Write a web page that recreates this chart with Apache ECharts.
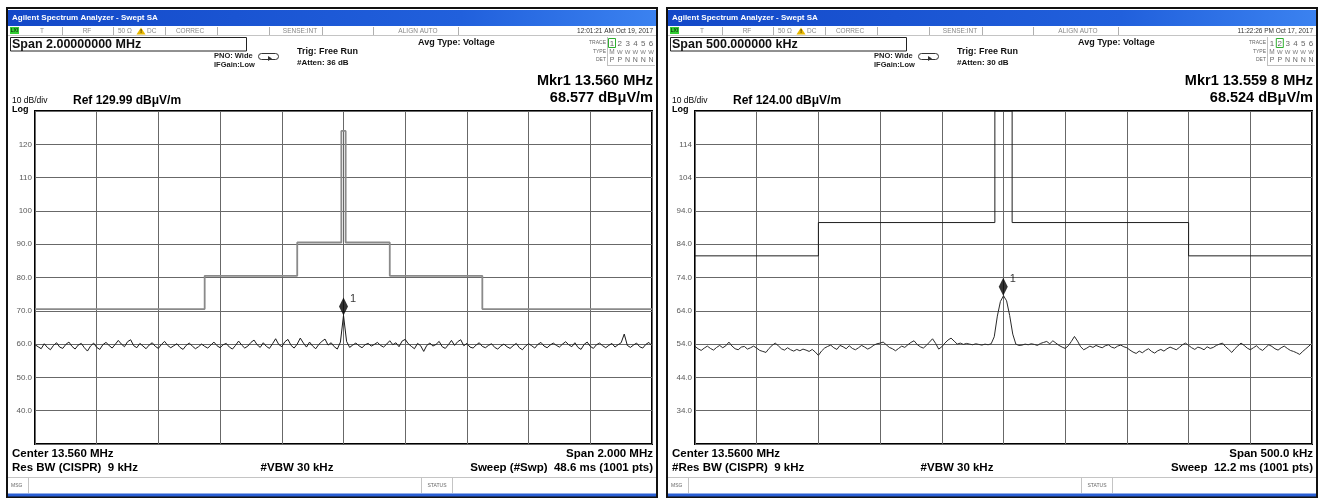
<!DOCTYPE html>
<html>
<head>
<meta charset="utf-8">
<script src="https://cdn.jsdelivr.net/npm/echarts@6/dist/echarts.min.js"></script>
<style>
html, body { margin: 0; padding: 0; background: #fff; }
#chart { width: 1327px; height: 498px; }
</style>
</head>
<body>
<div id="chart"></div>
<script>
// ---- Sweep A: 2 MHz span around 13.56 MHz (201 samples, 10 kHz apart) ----
const sweepACenter = 13.560;      // MHz
const sweepASpan = 2.0;           // MHz
const sweepARef = 129.99;         // dBuV/m, top of the graticule
const sweepAMarker = [13.560, 68.577];
const sweepATrace = [
  59.8, 59.2, 58.6, 60.1, 59.0, 58.3, 59.6, 60.4, 59.1, 58.7,
  59.9, 60.6, 59.3, 58.5, 59.7, 60.2, 58.9, 57.9, 59.4, 60.3,
  59.0, 58.4, 59.8, 60.5, 59.6, 58.8, 59.9, 61.1, 60.0, 59.2,
  60.7, 61.3, 59.5, 58.9, 60.2, 59.4, 58.6, 59.7, 60.4, 59.3,
  58.7, 59.9, 60.8, 59.6, 58.9, 59.5, 60.1, 59.0, 58.4, 59.6,
  60.3, 59.4, 58.6, 59.2, 60.0, 59.3, 58.8, 59.7, 60.6, 59.5,
  58.9, 59.8, 60.2, 59.1, 58.5, 59.6, 60.9, 59.7, 58.8, 59.4,
  60.5, 61.2, 59.8, 59.0, 60.4, 59.3, 58.7, 60.1, 61.6, 59.9,
  59.2, 60.7, 61.4, 59.6, 58.8, 60.0, 61.8, 60.3, 59.1, 60.6,
  59.4, 58.6, 59.9, 60.8, 61.5, 59.7, 60.4, 59.2, 58.5, 60.6,
  68.58,
  60.8, 59.0, 59.7, 60.3, 59.5, 58.9, 59.8, 60.2, 59.4,
  59.9, 60.5, 59.6, 59.1, 60.0, 61.0, 59.8, 60.4, 59.2, 60.9,
  61.4, 60.1, 59.3, 58.6, 60.2, 59.5, 57.8, 59.6, 60.3, 59.4,
  59.9, 60.8, 59.2, 58.7, 59.8, 61.1, 59.6, 60.7, 61.3, 59.5,
  60.2, 59.1, 58.8, 59.7, 60.4, 59.3, 58.9, 59.6, 60.1, 59.0,
  58.5, 59.4, 60.0, 59.2, 58.7, 59.5, 60.2, 58.9, 58.3, 59.4,
  60.1, 59.5, 58.8, 59.9, 60.5, 59.4, 58.9, 59.7, 60.3, 59.6,
  59.1, 60.0, 60.7, 59.8, 59.2, 60.4, 59.0, 58.4, 59.9, 60.6,
  59.3, 58.7, 59.8, 60.3, 59.5, 58.9, 59.6, 60.2, 59.1, 59.8,
  60.4, 63.0, 59.6, 59.0, 59.7, 60.3, 59.2, 58.8, 59.9, 60.5, 59.4
];

// ---- Sweep B: 500 kHz span around 13.56 MHz (201 samples, 2.5 kHz apart) ----
const sweepBCenter = 13.560;
const sweepBSpan = 0.5;
const sweepBRef = 124.00;
const sweepBMarker = [13.5598, 68.524];
const sweepBTrace = [
  53.3, 52.6, 52.1, 52.8, 53.4, 52.7, 52.2, 53.0, 53.6, 52.9,
  53.5, 54.6, 53.4, 52.6, 52.3, 53.1, 53.3, 52.5, 52.9, 53.4,
  52.8, 52.1, 51.8, 51.5, 52.7, 53.6, 54.3, 53.5, 52.6, 52.2,
  52.9, 52.3, 51.9, 52.4, 52.0, 52.5, 52.2, 51.8, 52.4, 51.6,
  50.6, 51.9, 52.8, 53.3, 53.7, 52.9, 52.4, 53.6, 53.2, 52.6,
  53.5, 52.7, 52.3, 52.9, 53.6, 53.1, 52.5, 53.0, 53.7, 54.1,
  54.3, 54.6, 53.8, 53.0, 52.6, 52.0, 52.7, 53.4, 53.0, 53.8,
  54.5, 55.0, 53.9, 53.2, 52.8, 53.6, 54.6, 55.6, 54.2, 52.5,
  53.2, 54.3, 55.2, 55.8, 54.9, 54.0, 54.3, 53.9, 54.2, 54.0,
  53.8, 54.1, 53.9, 53.7, 54.0, 53.8, 54.1, 56.2, 62.4, 66.8,
  68.52,
  67.0, 62.6, 57.0, 54.0, 53.6, 53.7, 54.0, 53.8, 54.1,
  53.9, 53.6, 54.2, 54.5, 54.8, 54.1, 55.0, 54.3, 53.6, 53.1,
  52.7, 53.5, 54.8, 56.3, 54.9, 53.2, 52.3, 52.8, 53.4, 53.0,
  53.6, 53.2, 52.9, 53.5, 53.8, 53.1, 52.8, 53.4, 53.7, 53.2,
  52.9, 52.2, 51.6, 51.2, 51.9, 51.4, 52.1, 52.6, 51.8, 51.3,
  52.0, 52.4, 51.9, 52.6, 53.1, 52.7, 52.3, 53.0, 53.8, 54.3,
  53.6, 52.9, 52.4, 53.1, 52.8, 52.3, 53.2, 52.7, 53.0, 53.6,
  54.0, 54.3, 53.2, 52.4, 51.5, 52.6, 53.5, 54.3, 53.6, 52.8,
  52.3, 52.9, 53.5, 52.6, 52.1, 53.0, 53.8, 53.3, 52.6, 52.2,
  52.9, 53.4, 52.7, 52.1, 51.8, 51.4, 50.9, 51.8, 52.6, 53.4, 54.3
];

// ---- Emission mask (limit line), shared by both sweeps ----
const maskEdges = [13.110, 13.410, 13.553, 13.567, 13.710, 14.010];   // MHz
const maskLevels = [70.5, 80.5, 90.5, 124.0, 90.5, 80.5, 70.5];       // dBuV/m

// ---- Screen annotations ----
const sweepALabels = {
  span: 'Span 2.00000000 MHz', atten: '#Atten: 36 dB', clock: '12:01:21 AM Oct 19, 2017',
  trace: 0, center: 'Center 13.560 MHz', rbw: 'Res BW (CISPR)  9 kHz', vbw: '#VBW 30 kHz',
  spanOut: 'Span 2.000 MHz', sweep: 'Sweep (#Swp)  48.6 ms (1001 pts)', mkrDigits: 3
};
const sweepBLabels = {
  span: 'Span 500.000000 kHz', atten: '#Atten: 30 dB', clock: '11:22:26 PM Oct 17, 2017',
  trace: 1, center: 'Center 13.5600 MHz', rbw: '#Res BW (CISPR)  9 kHz', vbw: '#VBW 30 kHz',
  spanOut: 'Span 500.0 kHz', sweep: 'Sweep  12.2 ms (1001 pts)', mkrDigits: 4
};

const FONT = "'Liberation Sans', Arial, sans-serif";
const GRID_COLOR = '#686868';

// x positions are offsets from centre frequency in kHz
function traceData(trace, spanMHz) {
  const half = spanMHz * 500, step = spanMHz * 1000 / (trace.length - 1);
  return trace.map((v, i) => [-half + i * step, v]);
}
function maskData(center, spanMHz) {
  const lo = center - spanMHz / 2, hi = center + spanMHz / 2;
  const k2 = f => (f - center) * 1000;
  let k = 0;
  while (k < maskEdges.length && maskEdges[k] <= lo) k++;
  const pts = [[k2(lo), maskLevels[k]]];
  for (; k < maskEdges.length && maskEdges[k] < hi; k++) {
    pts.push([k2(maskEdges[k]), maskLevels[k]], [k2(maskEdges[k]), maskLevels[k + 1]]);
  }
  pts.push([k2(hi), maskLevels[k]]);
  return pts;
}
function mkrFreqText(f, digits) {
  let s = f.toFixed(digits);
  if (digits > 3) { const p = s.indexOf('.') + 4; s = s.slice(0, p) + ' ' + s.slice(p); }
  return 'Mkr1 ' + s + ' MHz';
}

// ---- drawing helpers for the instrument screen ----
function txt(x, y, s, size, o) {
  o = o || {};
  return {
    type: 'text', silent: true, z: 20,
    style: {
      x: x, y: y, text: s, fill: o.color || '#000',
      font: (o.bold ? 'bold ' : '') + size + 'px ' + FONT,
      textAlign: o.align || 'left', align: o.align || 'left',
      textVerticalAlign: 'middle', verticalAlign: 'middle'
    }
  };
}
function rect(x, y, w, h, style, r) {
  return { type: 'rect', silent: true, z: 10, shape: { x: x, y: y, width: w, height: h, r: r || 0 }, style: style };
}
function seg(x1, y1, x2, y2, stroke, w) {
  return { type: 'line', silent: true, z: 11, shape: { x1: x1, y1: y1, x2: x2, y2: y2 }, style: { stroke: stroke, lineWidth: w || 1 } };
}

function screen(ox, L, ref, marker) {
  const g = [];
  // window frame and title bar
  g.push(rect(ox + 7, 8, 650, 489, { fill: 'none', stroke: '#111', lineWidth: 2 }));
  g.push(rect(ox + 8, 10, 648, 16, {
    fill: new echarts.graphic.LinearGradient(0, 0, 1, 0, [
      { offset: 0, color: '#1348c8' }, { offset: 0.7, color: '#2160dc' }, { offset: 1, color: '#3b82f0' }
    ])
  }));
  g.push(txt(ox + 12, 18, 'Agilent Spectrum Analyzer - Swept SA', 8, { bold: true, color: '#fff' }));
  // status strip
  g.push(seg(ox + 8, 35.5, ox + 656, 35.5, '#c4c4c4'));
  [62, 113, 165, 217, 269, 322, 373, 458].forEach(x => g.push(seg(ox + x + 0.5, 27, ox + x + 0.5, 35, '#b0b0b0')));
  g.push(rect(ox + 10, 27, 9, 7, { fill: '#33cc33' }));
  g.push(txt(ox + 14.5, 30.8, 'LXI', 5, { color: '#000', align: 'center' }));
  g.push(txt(ox + 42, 30.8, 'T', 6.5, { color: '#888', align: 'center' }));
  g.push(txt(ox + 87, 30.8, 'RF', 6.5, { color: '#888', align: 'center' }));
  g.push(txt(ox + 118, 30.8, '50 Ω', 6.5, { color: '#888' }));
  g.push({ type: 'polygon', silent: true, z: 12, shape: { points: [[ox + 141, 27.5], [ox + 136.5, 34.5], [ox + 145.5, 34.5]] }, style: { fill: '#e8b800' } });
  g.push(txt(ox + 141, 31.8, '!', 5, { bold: true, color: '#000', align: 'center' }));
  g.push(txt(ox + 147, 30.8, 'DC', 6.5, { color: '#888' }));
  g.push(txt(ox + 190, 30.8, 'CORREC', 6.5, { color: '#888', align: 'center' }));
  g.push(txt(ox + 300, 30.8, 'SENSE:INT', 6.5, { color: '#888', align: 'center' }));
  g.push(txt(ox + 418, 30.8, 'ALIGN AUTO', 6.5, { color: '#888', align: 'center' }));
  g.push(txt(ox + 653, 30.8, L.clock, 6.5, { color: '#333', align: 'right' }));
  // span entry box
  g.push(rect(ox + 10.5, 37.5, 236, 13.5, { fill: '#fff', stroke: '#222', lineWidth: 1 }));
  g.push(txt(ox + 12, 44.5, L.span, 12.5, { bold: true, color: '#111' }));
  // acquisition settings
  g.push(txt(ox + 214, 56, 'PNO: Wide', 7.5, { bold: true, color: '#222' }));
  g.push(txt(ox + 214, 65, 'IFGain:Low', 7.5, { bold: true, color: '#222' }));
  g.push(rect(ox + 258.5, 53.5, 20, 6, { fill: '#fff', stroke: '#333', lineWidth: 1 }, 3));
  g.push({ type: 'polygon', silent: true, z: 12, shape: { points: [[ox + 268, 56], [ox + 268, 61], [ox + 272, 58.5]] }, style: { fill: '#333' } });
  g.push(txt(ox + 297, 52, 'Trig: Free Run', 9, { bold: true, color: '#111' }));
  g.push(txt(ox + 297, 63, L.atten, 8, { bold: true, color: '#111' }));
  g.push(txt(ox + 418, 43, 'Avg Type: Voltage', 9, { bold: true, color: '#111' }));
  // trace table
  g.push(seg(ox + 607.5, 37, ox + 607.5, 65, '#c0c0c0'));
  g.push(seg(ox + 607, 65.5, ox + 655, 65.5, '#c0c0c0'));
  g.push(txt(ox + 606, 43, 'TRACE', 5, { color: '#666', align: 'right' }));
  g.push(txt(ox + 606, 52, 'TYPE', 5, { color: '#666', align: 'right' }));
  g.push(txt(ox + 606, 60, 'DET', 5, { color: '#666', align: 'right' }));
  const det = ['P', 'P', 'N', 'N', 'N', 'N'];
  for (let i = 0; i < 6; i++) {
    const cx = ox + 612 + i * 7.8;
    g.push(txt(cx, 43.5, String(i + 1), 8, { color: '#666', align: 'center' }));
    g.push(txt(cx, 60.5, det[i], 7, { color: '#666', align: 'center' }));
    g.push(txt(cx, 52, i === 0 ? 'M' : 'W', i === 0 ? 6.5 : 6, { color: '#777', align: 'center' }));
  }
  g.push(rect(ox + 608.5 + L.trace * 7.8, 38.5, 7, 9, { fill: 'none', stroke: '#2fae2f', lineWidth: 1 }));
  // marker readout
  g.push(txt(ox + 653, 81, mkrFreqText(marker[0], L.mkrDigits), 14.5, { bold: true, color: '#000', align: 'right' }));
  g.push(txt(ox + 653, 98, marker[1].toFixed(3) + ' dBμV/m', 14.5, { bold: true, color: '#000', align: 'right' }));
  // scale annotations
  g.push(txt(ox + 12, 101, '10 dB/div', 8.5, { color: '#000' }));
  g.push(txt(ox + 12, 109.5, 'Log', 9, { bold: true, color: '#000' }));
  g.push(txt(ox + 73, 100.5, 'Ref ' + ref.toFixed(2) + ' dBμV/m', 12, { bold: true, color: '#000' }));
  // bottom annotations
  g.push(txt(ox + 12, 453.5, L.center, 11.5, { bold: true, color: '#000' }));
  g.push(txt(ox + 12, 467.5, L.rbw, 11.5, { bold: true, color: '#000' }));
  g.push(txt(ox + 297, 467.5, L.vbw, 11.5, { bold: true, color: '#000', align: 'center' }));
  g.push(txt(ox + 653, 453.5, L.spanOut, 11.5, { bold: true, color: '#000', align: 'right' }));
  g.push(txt(ox + 653, 467.5, L.sweep, 11.5, { bold: true, color: '#000', align: 'right' }));
  // message bar
  g.push(seg(ox + 8, 477.5, ox + 656, 477.5, '#c4c4c4'));
  g.push(seg(ox + 28.5, 478, ox + 28.5, 493, '#c4c4c4'));
  g.push(seg(ox + 421.5, 478, ox + 421.5, 493, '#c4c4c4'));
  g.push(seg(ox + 452.5, 478, ox + 452.5, 493, '#c4c4c4'));
  g.push(txt(ox + 11, 485.5, 'MSG', 5, { color: '#666' }));
  g.push(txt(ox + 437, 485.5, 'STATUS', 5, { color: '#666', align: 'center' }));
  g.push(rect(ox + 8, 493.5, 648, 3, { fill: '#2a5fd4' }));
  return g;
}

function yLabel(v) {
  const r = Math.round(v * 10) / 10;
  return r >= 100 ? r.toFixed(0) : r.toFixed(1);
}

function axes(spanMHz, ref, gi) {
  const half = spanMHz * 500;
  return {
    x: {
      type: 'value', gridIndex: gi, min: -half, max: half, interval: spanMHz * 100,
      axisLine: { show: false }, axisTick: { show: false }, axisLabel: { show: false },
      splitLine: { show: true, lineStyle: { color: GRID_COLOR, width: 1 } }
    },
    y: {
      type: 'value', gridIndex: gi, min: ref - 100, max: ref, interval: 10,
      axisLine: { show: false }, axisTick: { show: false },
      axisLabel: { show: true, showMinLabel: false, showMaxLabel: false, formatter: yLabel,
        color: '#5a5a5a', fontSize: 8, fontFamily: FONT, margin: 3 },
      splitLine: { show: true, lineStyle: { color: GRID_COLOR, width: 1 } }
    }
  };
}

function markerSeries(gi, center, marker) {
  return {
    type: 'scatter', xAxisIndex: gi, yAxisIndex: gi, z: 6,
    symbol: 'diamond', symbolSize: [9, 18], symbolOffset: [0, '-50%'],
    itemStyle: { color: '#000' },
    label: { show: true, position: 'right', distance: 1, offset: [1, -8], formatter: '1',
      color: '#000', fontSize: 11, fontFamily: FONT },
    data: [[(marker[0] - center) * 1000, marker[1]]]
  };
}

const axA = axes(sweepASpan, sweepARef, 0);
const axB = axes(sweepBSpan, sweepBRef, 1);

const option = {
  backgroundColor: '#fff',
  animation: false,
  grid: [
    { left: 35, top: 111, width: 617, height: 333, show: true, borderColor: '#000', borderWidth: 2, backgroundColor: '#fff' },
    { left: 695, top: 111, width: 617, height: 333, show: true, borderColor: '#000', borderWidth: 2, backgroundColor: '#fff' }
  ],
  xAxis: [axA.x, axB.x],
  yAxis: [axA.y, axB.y],
  series: [
    { type: 'line', xAxisIndex: 0, yAxisIndex: 0, showSymbol: false, z: 3,
      lineStyle: { color: '#8a8a8a', width: 1.8 }, data: maskData(sweepACenter, sweepASpan) },
    { type: 'line', xAxisIndex: 0, yAxisIndex: 0, showSymbol: false, z: 4,
      lineStyle: { color: '#1a1a1a', width: 1 }, data: traceData(sweepATrace, sweepASpan) },
    markerSeries(0, sweepACenter, sweepAMarker),
    { type: 'line', xAxisIndex: 1, yAxisIndex: 1, showSymbol: false, z: 3,
      lineStyle: { color: '#1f1f1f', width: 1 }, data: maskData(sweepBCenter, sweepBSpan) },
    { type: 'line', xAxisIndex: 1, yAxisIndex: 1, showSymbol: false, z: 4,
      lineStyle: { color: '#2a2a2a', width: 1 }, data: traceData(sweepBTrace, sweepBSpan) },
    markerSeries(1, sweepBCenter, sweepBMarker)
  ],
  graphic: { elements: screen(0, sweepALabels, sweepARef, sweepAMarker).concat(screen(660, sweepBLabels, sweepBRef, sweepBMarker)) }
};

const chart = echarts.init(document.getElementById('chart'), null, { renderer: 'canvas' });
chart.setOption(option);
</script>
</body>
</html>
